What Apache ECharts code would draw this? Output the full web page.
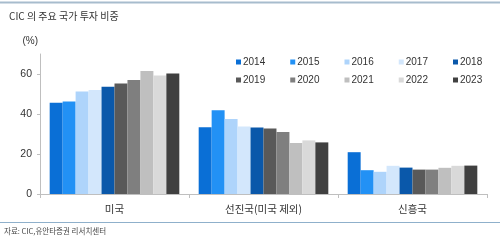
<!DOCTYPE html>
<html>
<head>
<meta charset="utf-8">
<script src="https://cdn.jsdelivr.net/npm/echarts@6/dist/echarts.min.js"></script>
<style>html,body{margin:0;padding:0;background:#fff}#c{width:500px;height:240px}</style>
</head>
<body>
<div id="c"></div>
<script>
const categories = ['미국', '선진국(미국 제외)', '신흥국'];
const years = ['2014','2015','2016','2017','2018','2019','2020','2021','2022','2023'];
const v2014 = [45.6, 33.4, 20.9];
const v2015 = [46.3, 41.9, 11.9];
const v2016 = [51.3, 37.5, 11.1];
const v2017 = [52.0, 33.7, 14.1];
const v2018 = [53.6, 33.2, 13.2];
const v2019 = [55.3, 32.7, 12.2];
const v2020 = [57.0, 31.0, 12.2];
const v2021 = [61.5, 25.5, 13.1];
const v2022 = [59.3, 26.8, 14.1];
const v2023 = [60.3, 25.8, 14.2];
const yTicks = [0, 20, 40, 60];

const values = [v2014, v2015, v2016, v2017, v2018, v2019, v2020, v2021, v2022, v2023];
const colors = ['#0a6fd6', '#2291f5', '#aed4fb', '#d3e7fc', '#0a58aa', '#595959', '#7f7f7f', '#bfbfbf', '#d9d9d9', '#404040'];
const font = '"Noto Sans CJK KR", "Liberation Sans", sans-serif';
const latin = '"Liberation Sans", Arial, sans-serif';

function legendRow(names, top) {
  return {
    data: names,
    left: 231, top: top,
    itemWidth: 5, itemHeight: 5, itemGap: 25,
    icon: 'rect',
    textStyle: {fontSize: 10, color: '#333', fontFamily: latin, padding: [0, 0, 0, -3]}
  };
}

const chart = echarts.init(document.getElementById('c'), null, {renderer: 'canvas'});
chart.setOption({
  animation: false,
  textStyle: {fontFamily: font},
  title: {
    text: 'CIC 의 주요 국가 투자 비중',
    left: 4, top: 6,
    textStyle: {fontSize: 10, fontWeight: 'normal', color: '#333', fontFamily: font}
  },
  legend: [legendRow(years.slice(0, 5), 52), legendRow(years.slice(5), 70)],
  grid: {left: 40, right: 13, top: 54, bottom: 46},
  xAxis: {
    type: 'category',
    data: categories,
    axisLine: {lineStyle: {color: '#bfbfbf'}},
    axisTick: {show: true, alignWithLabel: false, length: 4, lineStyle: {color: '#bfbfbf'}},
    axisLabel: {fontSize: 10.5, color: '#333', margin: 10, fontFamily: font}
  },
  yAxis: {
    type: 'value',
    min: 0, max: 70, interval: 20,
    name: '(%)', nameLocation: 'end', nameGap: 8,
    nameTextStyle: {fontSize: 10, color: '#333', align: 'right', padding: [0, 2, 0, 0], fontFamily: latin},
    splitLine: {show: false},
    axisLine: {show: true, lineStyle: {color: '#bfbfbf'}},
    axisTick: {show: true, length: 3, lineStyle: {color: '#bfbfbf'}},
    axisLabel: {
      fontSize: 10.5, color: '#333', margin: 8, showMaxLabel: false,
      fontFamily: latin,
      formatter: function (v) { return yTicks.indexOf(v) >= 0 ? String(v) : ''; }
    }
  },
  series: years.map((y, i) => ({
    name: y,
    type: 'bar',
    data: values[i],
    itemStyle: {color: colors[i]},
    barGap: '0%',
    barCategoryGap: '13%'
  })),
  graphic: [
    {type: 'line', shape: {x1: 0, y1: 2.5, x2: 500, y2: 2.5}, style: {stroke: '#a7bccd', lineWidth: 2}},
    {type: 'line', shape: {x1: 0, y1: 222.5, x2: 500, y2: 222.5}, style: {stroke: '#8fb0cb', lineWidth: 1}},
    {type: 'text', left: 4, top: 227, style: {text: '자료: CIC,유안타증권 리서치센터', fontSize: 7.5, fill: '#444', fontFamily: font}}
  ]
});
</script>
</body>
</html>
